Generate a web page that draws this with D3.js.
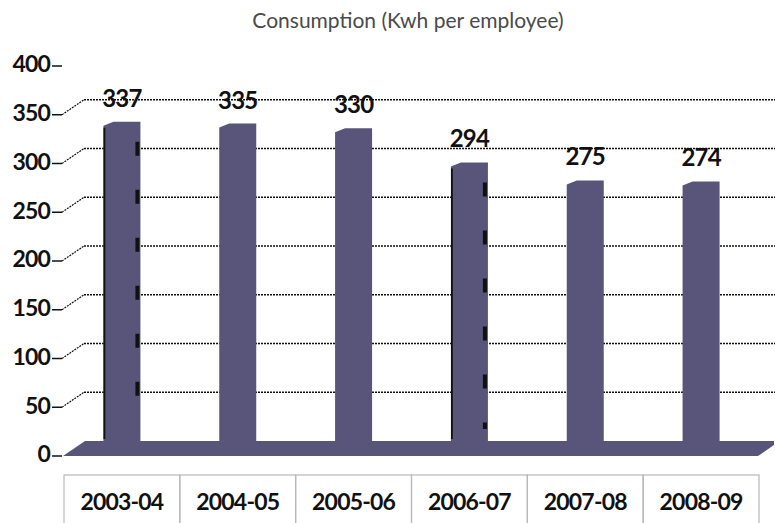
<!DOCTYPE html>
<html>
<head>
<meta charset="utf-8">
<script src="https://cdn.jsdelivr.net/npm/d3@7"></script>
<style>
  body { margin: 0; background: #fff; }
  svg { display: block; font-family: Lato, "Open Sans", sans-serif; }
</style>
</head>
<body>
<svg id="drawing_region"></svg>
<script>
// data
const years = ["2003-04", "2004-05", "2005-06", "2006-07", "2007-08", "2008-09"];
const consumption = [337, 335, 330, 294, 275, 274];
const yTicks = [0, 50, 100, 150, 200, 250, 300, 350, 400];
const gridTicks = [50, 100, 150, 200, 250, 300, 350];
const title = "Consumption (Kwh per employee)";

const width = 775, height = 523;
const barColor = "#58547a";

const svg = d3.select("#drawing_region")
    .attr("width", width)
    .attr("height", height);

// scales
const xscale = d3.scaleBand().domain(years).range([64, 759]);
const frontY = d3.scaleLinear().domain([0, 400]).range([454, 64]);   // axis labels
const backY  = d3.scaleLinear().domain([0, 400]).range([441, 51]);   // back wall grid
const barY   = d3.scaleLinear().domain([0, 400]).range([441, 62]);   // bar tops
const depth = {dx: 21, dy: -14};

// title
svg.append("text")
    .attr("x", 408).attr("y", 28)
    .attr("text-anchor", "middle")
    .attr("font-size", 21)
    .attr("fill", "#4a4a4a")
    .text(title);

// back wall gridlines (dotted) with diagonal connectors to the front axis
const grid = svg.append("g");
grid.selectAll("line.grid")
    .data(gridTicks)
    .join("line")
    .attr("class", "grid")
    .attr("x1", 63 + depth.dx).attr("x2", width)
    .attr("y1", d => backY(d)).attr("y2", d => backY(d))
    .attr("stroke", "#111")
    .attr("stroke-width", 1.4)
    .attr("stroke-dasharray", "2,1");
grid.selectAll("line.conn")
    .data(gridTicks)
    .join("line")
    .attr("class", "conn")
    .attr("x1", 62).attr("y1", d => frontY(d) + 2)
    .attr("x2", 63 + depth.dx).attr("y2", d => backY(d))
    .attr("stroke", "#111")
    .attr("stroke-width", 1.2)
    .attr("stroke-dasharray", "2,1");

// y axis labels with dash ticks
const yaxis = svg.append("g");
yaxis.selectAll("text")
    .data(yTicks)
    .join("text")
    .attr("x", 50)
    .attr("y", d => frontY(d))
    .attr("dy", "0.36em")
    .attr("text-anchor", "end")
    .attr("font-size", 23)
    .attr("font-weight", 700)
    .attr("letter-spacing", -0.8)
    .attr("fill", "#111")
    .text(d => d);
yaxis.selectAll("line")
    .data(yTicks)
    .join("line")
    .attr("x1", 52).attr("x2", 62)
    .attr("y1", d => frontY(d) + 2).attr("y2", d => frontY(d) + 2)
    .attr("stroke", "#111")
    .attr("stroke-width", 1.5);

// floor
const floorTop = backY(0), floorBottom = floorTop - depth.dy + 1;
svg.append("polygon")
    .attr("points", [
        [63, floorBottom], [63 + depth.dx + 1, floorTop],
        [774, floorTop], [774, floorTop + 4], [758, floorBottom]
    ].map(p => p.join(",")).join(" "))
    .attr("fill", barColor);

// bars
const bw = 37;
const bars = svg.append("g");
bars.selectAll("path")
    .data(consumption)
    .join("path")
    .attr("d", (d, i) => {
        const x0 = xscale(years[i]) + xscale.bandwidth() / 2 - bw / 2;
        const x1 = x0 + bw;
        const top = barY(d);
        return `M${x0},${top + 4} L${x0 + 10},${top} L${x1},${top} L${x1},${floorTop + 1} L${x0},${floorTop + 1} Z`;
    })
    .attr("fill", barColor);

// dark edge artifacts on a few bars
const darkEdgeBars = [0, 3];
darkEdgeBars.forEach(i => {
    const x0 = xscale(years[i]) + xscale.bandwidth() / 2 - bw / 2;
    const x1 = x0 + bw;
    const top = barY(consumption[i]);
    bars.append("line")
        .attr("x1", x0 + 1).attr("x2", x0 + 1)
        .attr("y1", top + 6).attr("y2", floorTop - 2)
        .attr("stroke", "#111").attr("stroke-width", 1.8);
    bars.append("line")
        .attr("x1", x1 - 3).attr("x2", x1 - 3)
        .attr("y1", top + 20).attr("y2", floorTop - 12)
        .attr("stroke", "#111").attr("stroke-width", 4)
        .attr("stroke-dasharray", "14,34");
});

// value labels
svg.append("g").selectAll("text")
    .data(consumption)
    .join("text")
    .attr("x", (d, i) => xscale(years[i]) + xscale.bandwidth() / 2)
    .attr("y", d => barY(d) - 15)
    .attr("text-anchor", "middle")
    .attr("font-size", 24)
    .attr("font-weight", 700)
    .attr("letter-spacing", -0.8)
    .attr("fill", "#111")
    .text(d => d);

// category table
const table = svg.append("g");
table.selectAll("rect")
    .data(years)
    .join("rect")
    .attr("x", d => xscale(d))
    .attr("y", 475)
    .attr("width", xscale.bandwidth())
    .attr("height", 60)
    .attr("fill", "none")
    .attr("stroke", "#b8b8b8")
    .attr("stroke-width", 1.2);
table.selectAll("text")
    .data(years)
    .join("text")
    .attr("x", d => xscale(d) + xscale.bandwidth() / 2)
    .attr("y", 502)
    .attr("dy", "0.36em")
    .attr("text-anchor", "middle")
    .attr("font-size", 23)
    .attr("font-weight", 700)
    .attr("letter-spacing", -0.8)
    .attr("fill", "#111")
    .text(d => d);
</script>
</body>
</html>
